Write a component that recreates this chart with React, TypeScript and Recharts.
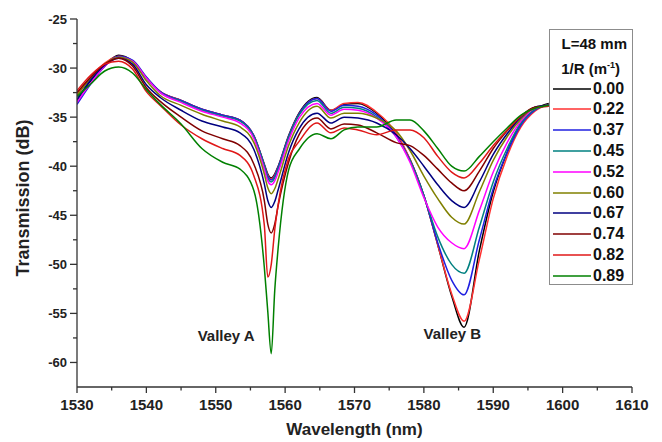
import React from "react";
import { LineChart, Line, XAxis, YAxis, Legend, ReferenceDot } from "recharts";

const FONT = "'Liberation Sans', Arial, Helvetica, sans-serif";

// wavelength grid (nm)
const wavelength = [
  1530, 1532, 1534, 1536, 1538, 1540, 1542, 1545, 1548, 1551, 1553.5, 1555.5,
  1557, 1557.5, 1558, 1558.5, 1559, 1560.5, 1562, 1564.6, 1566.6, 1568.5, 1570.5, 1573.2,
  1576, 1578, 1580, 1582, 1584, 1585.8, 1588, 1590, 1592, 1594, 1596, 1598,
];

// transmission (dB) for each curvature 1/R
const t000 = [
  -33.3, -31.3, -29.7, -28.7, -29.3, -31.0, -32.4, -33.3, -34.2, -34.8, -35.3, -36.9,
  -39.8, -40.8, -41.2, -40.8, -40.0, -36.9, -34.6, -33.0, -34.3, -33.7, -33.6, -34.6,
  -36.8, -39.3, -43.0, -48.0, -53.2, -56.4, -48.6, -42.6, -38.6, -35.6, -34.2, -33.6,
];
const t022 = [
  -32.6, -30.9, -29.5, -28.8, -29.3, -31.0, -32.4, -33.3, -34.2, -34.8, -35.3, -36.9,
  -39.9, -40.9, -41.3, -40.9, -40.1, -37.0, -34.7, -33.1, -34.3, -33.6, -33.5, -34.5,
  -36.6, -39.3, -43.0, -48.0, -53.0, -55.8, -49.5, -43.3, -39.0, -36.0, -34.4, -33.7,
];
const t037 = [
  -33.7, -31.6, -29.8, -28.8, -29.2, -30.9, -32.4, -33.3, -34.2, -34.8, -35.3, -36.9,
  -39.9, -41.0, -41.4, -41.0, -40.1, -37.0, -34.7, -33.1, -34.4, -33.8, -33.9, -34.8,
  -36.9, -39.4, -43.0, -47.8, -51.6, -53.1, -47.5, -42.3, -38.6, -35.8, -34.3, -33.7,
];
const t045 = [
  -33.4, -31.5, -29.8, -28.9, -29.3, -31.0, -32.5, -33.4, -34.3, -34.9, -35.4, -37.0,
  -40.0, -41.2, -41.6, -41.2, -40.3, -37.1, -34.8, -33.3, -34.6, -34.0, -34.1, -35.0,
  -37.0, -39.4, -43.0, -47.2, -50.0, -50.9, -46.2, -41.6, -38.2, -35.6, -34.2, -33.8,
];
const t052 = [
  -33.5, -31.5, -29.8, -28.9, -29.3, -31.0, -32.5, -33.5, -34.4, -35.0, -35.6, -37.2,
  -40.3, -41.5, -41.9, -41.5, -40.6, -37.4, -35.1, -33.6, -34.8, -34.2, -34.3, -35.1,
  -37.0, -39.6, -43.2, -46.2, -47.8, -48.4, -44.5, -40.6, -37.6, -35.4, -34.1, -33.8,
];
const t060 = [
  -32.8, -31.0, -29.6, -28.9, -29.4, -31.3, -32.8, -33.8, -34.7, -35.4, -36.0, -37.6,
  -40.8, -42.2, -42.8, -42.3, -41.3, -37.9, -35.6, -33.9, -35.1, -34.6, -34.6, -35.1,
  -36.4, -38.4, -41.0, -43.3, -45.2, -45.9, -42.6, -39.4, -37.0, -35.2, -34.0, -33.8,
];
const t067 = [
  -33.2, -31.2, -29.7, -29.0, -29.6, -31.7, -33.0, -34.3, -35.4, -36.0, -36.6, -38.3,
  -41.8, -43.5, -44.2, -43.6, -42.4, -38.6, -36.2, -34.6, -35.6, -35.0, -35.1, -35.6,
  -36.8, -38.2, -40.0, -41.9, -43.5, -44.2, -41.6, -38.8, -36.7, -35.0, -34.0, -33.8,
];
const t074 = [
  -32.5, -30.9, -29.6, -29.0, -29.8, -32.0, -33.4, -35.0, -36.4, -37.2, -37.9, -39.8,
  -43.5, -45.9, -46.8, -45.9, -44.0, -39.6, -36.8, -35.1, -36.2, -35.7, -35.8, -36.6,
  -37.6, -37.9, -38.9, -40.3, -41.7, -42.5, -40.5, -38.2, -36.4, -34.9, -34.0, -33.9,
];
const t082 = [
  -32.3, -30.7, -29.6, -29.3, -30.1, -32.4, -33.8, -35.8, -37.2, -38.2, -38.9, -41.0,
  -46.0, -51.3, -50.0, -46.5, -43.9, -39.2, -37.5, -35.6, -36.6, -36.1, -36.3, -36.8,
  -36.3, -36.3, -37.1, -39.0, -40.6, -41.2, -39.7, -37.9, -36.3, -34.9, -34.1, -33.9,
];
const t089 = [
  -32.9, -31.6, -30.3, -29.9, -30.5, -32.2, -33.7, -35.7, -38.2, -39.6, -40.3, -42.5,
  -50.3, -54.8, -59.1, -52.7, -48.3, -40.4, -38.3, -36.7, -37.2, -36.3, -36.0, -36.0,
  -35.3, -35.3, -36.4, -38.2, -40.0, -40.5, -39.0, -37.5, -36.1, -34.8, -34.1, -33.8,
];

const series = [
  { key: "c000", name: "0.00", color: "#000000", values: t000 },
  { key: "c022", name: "0.22", color: "#ff3030", values: t022 },
  { key: "c037", name: "0.37", color: "#2020e0", values: t037 },
  { key: "c045", name: "0.45", color: "#008080", values: t045 },
  { key: "c052", name: "0.52", color: "#ff00ff", values: t052 },
  { key: "c060", name: "0.60", color: "#808000", values: t060 },
  { key: "c067", name: "0.67", color: "#000080", values: t067 },
  { key: "c074", name: "0.74", color: "#800000", values: t074 },
  { key: "c082", name: "0.82", color: "#e01818", values: t082 },
  { key: "c089", name: "0.89", color: "#008000", values: t089 },
];

const xTicks = [1530, 1535, 1540, 1545, 1550, 1555, 1560, 1565, 1570, 1575, 1580, 1585, 1590, 1595, 1600, 1605, 1610];
const yTicks = [-25, -27.5, -30, -32.5, -35, -37.5, -40, -42.5, -45, -47.5, -50, -52.5, -55, -57.5, -60];

const data = wavelength.map((w, i) => {
  const row: any = { w };
  series.forEach((s) => (row[s.key] = s.values[i]));
  return row;
});

const AXIS = "#333";

function XTick({ x, y, payload }: any) {
  const major = payload.value % 10 === 0;
  return (
    <g>
      <line x1={x} x2={x} y1={y} y2={y + (major ? 6 : 3.5)} stroke={AXIS} strokeWidth={1.3} />
      {major && (
        <text x={x} y={y + 23} textAnchor="middle" fontFamily={FONT} fontWeight="bold" fontSize={15} fill="#222">
          {payload.value}
        </text>
      )}
    </g>
  );
}

function YTick({ x, y, payload }: any) {
  const major = payload.value % 5 === 0;
  return (
    <g>
      <line x1={x} x2={x - (major ? 7 : 4)} y1={y} y2={y} stroke={AXIS} strokeWidth={1.3} />
      {major && (
        <text x={x - 10} y={y} dy="0.36em" textAnchor="end" fontFamily={FONT} fontWeight="bold" fontSize={13} fill="#222">
          {payload.value}
        </text>
      )}
    </g>
  );
}

// boxed legend in the style of the original figure
function LegendBox() {
  return (
    <div
      style={{
        width: 84,
        height: 256,
        boxSizing: "border-box",
        border: "1px solid #8c8c8c",
        background: "#fff",
        fontFamily: FONT,
        fontWeight: "bold",
        color: "#111",
        position: "relative",
      }}
    >
      <div style={{ position: "absolute", right: 5, top: 4, fontSize: 15, lineHeight: "20px" }}>L=48 mm</div>
      <div style={{ position: "absolute", right: 12, top: 25, fontSize: 15, lineHeight: "20px" }}>
        1/R (m<sup style={{ fontSize: 9 }}>-1</sup>)
      </div>
      {series.map((s, i) => (
        <div
          key={s.key}
          style={{
            position: "absolute",
            left: 3,
            top: 48 + i * 20.8,
            height: 21,
            display: "flex",
            alignItems: "center",
          }}
        >
          <svg width={38} height={6} style={{ display: "block" }}>
            <line x1={0} x2={38} y1={3} y2={3} stroke={s.color} strokeWidth={1.6} />
          </svg>
          <span style={{ marginLeft: 2, fontSize: 16 }}>{s.name}</span>
        </div>
      ))}
    </div>
  );
}

export default function App() {
  return (
    <div style={{ position: "absolute", left: 0, top: 0, width: 662, height: 442, background: "#fff" }}>
      <LineChart width={662} height={442} data={data} margin={{ top: 19, right: 30, bottom: 25, left: 15 }}>
        <XAxis
          dataKey="w"
          type="number"
          domain={[1530, 1610]}
          ticks={xTicks}
          interval={0}
          height={30}
          tickSize={0}
          tickMargin={0}
          tick={<XTick />}
          axisLine={{ stroke: AXIS, strokeWidth: 1.3 }}
          allowDataOverflow
          label={{
            value: "Wavelength (nm)",
            position: "bottom",
            offset: 6,
            fontFamily: FONT,
            fontWeight: "bold",
            fontSize: 17,
            fill: "#222",
          }}
        />
        <YAxis
          type="number"
          domain={[-62.5, -25]}
          ticks={yTicks}
          interval={0}
          width={62}
          tickSize={0}
          tickMargin={0}
          tick={<YTick />}
          axisLine={{ stroke: AXIS, strokeWidth: 1.3 }}
          allowDataOverflow
        />
        {series.map((s) => (
          <Line
            key={s.key}
            type="monotone"
            dataKey={s.key}
            name={s.name}
            stroke={s.color}
            strokeWidth={1.5}
            dot={false}
            isAnimationActive={false}
          />
        ))}
        <ReferenceDot
          x={1551.5}
          y={-57.3}
          r={0}
          fill="none"
          stroke="none"
          label={{ value: "Valley A", position: "center", fontFamily: FONT, fontWeight: "bold", fontSize: 15, fill: "#222" }}
        />
        <ReferenceDot
          x={1584.1}
          y={-57.1}
          r={0}
          fill="none"
          stroke="none"
          label={{ value: "Valley B", position: "center", fontFamily: FONT, fontWeight: "bold", fontSize: 15, fill: "#222" }}
        />
        <text
          x={23}
          y={198}
          transform="rotate(-90 23 198)"
          textAnchor="middle"
          dominantBaseline="central"
          fontFamily={FONT}
          fontWeight="bold"
          fontSize={18}
          fill="#222"
        >
          Transmission (dB)
        </text>
        <Legend
          layout="vertical"
          align="center"
          verticalAlign="middle"
          content={<LegendBox />}
          wrapperStyle={{ left: 549, top: 29, width: 84, height: 256 }}
        />
      </LineChart>
    </div>
  );
}
